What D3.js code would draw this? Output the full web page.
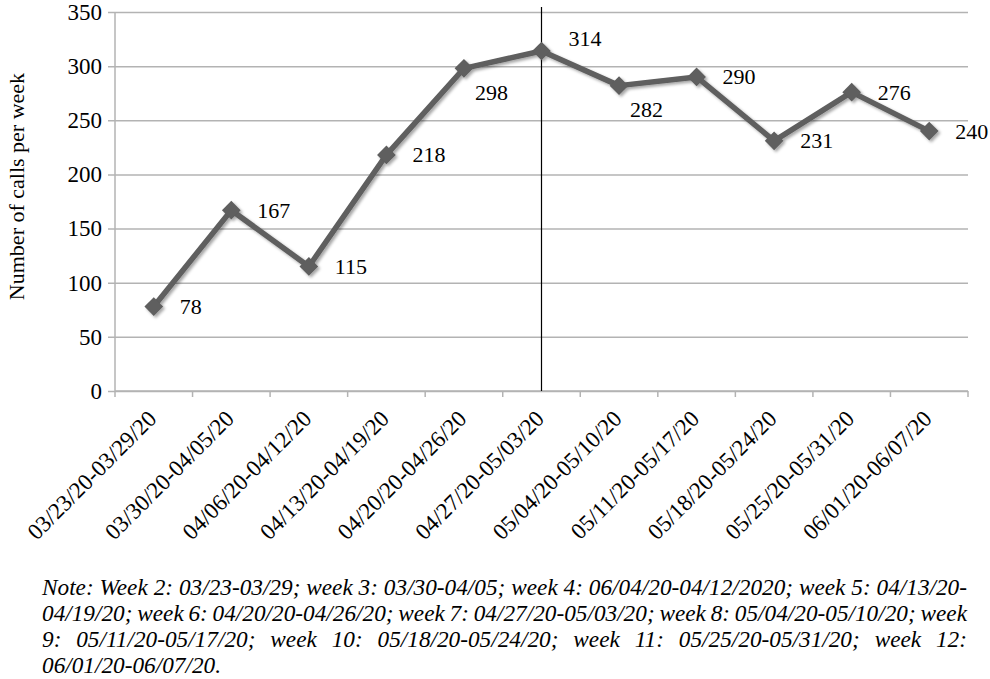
<!DOCTYPE html>
<html>
<head>
<meta charset="utf-8">
<script src="https://cdn.jsdelivr.net/npm/d3@7"></script>
<style>
  body { margin: 0; background: #fff; }
  svg, svg text { font-family: "Liberation Serif", "Times New Roman", serif; }
</style>
</head>
<body>
<div id="chart"></div>
<script>
// week ranges on the x axis
var weeks = ["03/23/20-03/29/20", "03/30/20-04/05/20", "04/06/20-04/12/20", "04/13/20-04/19/20",
             "04/20/20-04/26/20", "04/27/20-05/03/20", "05/04/20-05/10/20", "05/11/20-05/17/20",
             "05/18/20-05/24/20", "05/25/20-05/31/20", "06/01/20-06/07/20"];
// calls per week
var calls = [78, 167, 115, 218, 298, 314, 282, 290, 231, 276, 240];
// where each value label sits next to its marker: r = right, br = below right, ar = above right
var labelPlace = ["r", "r", "r", "r", "br", "ar", "br", "r", "r", "r", "r"];
var yTicks = [0, 50, 100, 150, 200, 250, 300, 350];
var markedWeek = "04/27/20-05/03/20";
var yTitle = "Number of calls per week";
var noteLines = [
    "Note: Week 2: 03/23-03/29; week 3: 03/30-04/05; week 4: 06/04/20-04/12/2020; week 5: 04/13/20-",
    "04/19/20; week 6: 04/20/20-04/26/20; week 7: 04/27/20-05/03/20; week 8: 05/04/20-05/10/20; week",
    "9: 05/11/20-05/17/20; week 10: 05/18/20-05/24/20; week 11: 05/25/20-05/31/20; week 12:",
    "06/01/20-06/07/20."
];

var W = 990, H = 679;
var plot = {left: 115, right: 968, top: 12, bottom: 391};

var svg = d3.select("#chart").append("svg")
    .attr("width", W)
    .attr("height", H);

var defs = svg.append("defs");
var shadow = defs.append("filter").attr("id", "shadow")
    .attr("x", "-50%").attr("y", "-50%").attr("width", "200%").attr("height", "200%");
shadow.append("feDropShadow")
    .attr("dx", 2).attr("dy", 2).attr("stdDeviation", 1.5)
    .attr("flood-color", "#000").attr("flood-opacity", 0.35);

var x = d3.scaleBand()
    .domain(weeks)
    .range([plot.left, plot.right])
    .padding(0);

var y = d3.scaleLinear()
    .domain([0, 350])
    .range([plot.bottom, plot.top]);

var gridColor = "#b3b3b3";

// horizontal gridlines + y tick labels
var yAxis = svg.append("g")
    .attr("transform", "translate(" + plot.left + ",0)")
    .call(d3.axisLeft(y).tickValues(yTicks).tickSize(-(plot.right - plot.left)).tickPadding(13));
yAxis.attr("font-family", null);
yAxis.select(".domain").remove();
yAxis.selectAll(".tick line")
    .attr("x1", -7)
    .attr("stroke", gridColor)
    .attr("stroke-width", 1.5);
yAxis.selectAll(".tick text")
    .attr("font-size", 23)
    .attr("fill", "#000");

// y axis line
svg.append("line")
    .attr("x1", plot.left).attr("x2", plot.left)
    .attr("y1", plot.top).attr("y2", plot.bottom)
    .attr("stroke", gridColor).attr("stroke-width", 1.5);

// x axis: line and ticks at the band edges
var xAxisG = svg.append("g");
xAxisG.append("line")
    .attr("x1", plot.left).attr("x2", plot.right)
    .attr("y1", plot.bottom).attr("y2", plot.bottom)
    .attr("stroke", gridColor).attr("stroke-width", 1.5);
var edges = weeks.map(function(w) { return x(w); }).concat([x(weeks[weeks.length - 1]) + x.bandwidth()]);
xAxisG.selectAll("line.tk")
    .data(edges)
    .enter().append("line")
    .attr("class", "tk")
    .attr("x1", function(d) { return d; }).attr("x2", function(d) { return d; })
    .attr("y1", plot.bottom).attr("y2", plot.bottom + 6)
    .attr("stroke", gridColor).attr("stroke-width", 1.5);

xAxisG.selectAll("text.wk")
    .data(weeks)
    .enter().append("text")
    .attr("class", "wk")
    .attr("text-anchor", "end")
    .attr("font-size", 23)
    .attr("transform", function(d) {
        return "translate(" + (x(d) + x.bandwidth() / 2 + 4) + "," + (plot.bottom + 29) + ") rotate(-45)";
    })
    .text(function(d) { return d; });

// y axis title
svg.append("text")
    .attr("transform", "translate(16," + ((plot.top + plot.bottom) / 2 - 15) + ") rotate(-90)")
    .attr("text-anchor", "middle")
    .attr("dominant-baseline", "central")
    .attr("font-size", 22)
    .text(yTitle);

// vertical marker line
var cx = function(w) { return x(w) + x.bandwidth() / 2; };
svg.append("line")
    .attr("x1", cx(markedWeek)).attr("x2", cx(markedWeek))
    .attr("y1", 7).attr("y2", plot.bottom)
    .attr("stroke", "#000").attr("stroke-width", 1.2);

// the series
var series = weeks.map(function(w, i) { return {week: w, value: calls[i], place: labelPlace[i]}; });
var lineColor = "#5e5e5e";

var line = d3.line()
    .x(function(d) { return cx(d.week); })
    .y(function(d) { return y(d.value); });

var marks = svg.append("g").attr("filter", "url(#shadow)");
marks.append("path")
    .datum(series)
    .attr("d", line)
    .attr("fill", "none")
    .attr("stroke", lineColor)
    .attr("stroke-width", 5.5)
    .attr("stroke-linejoin", "round");

var diamond = d3.symbol().type(d3.symbolSquare).size(175);
marks.selectAll("path.pt")
    .data(series)
    .enter().append("path")
    .attr("class", "pt")
    .attr("d", diamond)
    .attr("transform", function(d) { return "translate(" + cx(d.week) + "," + y(d.value) + ") rotate(45)"; })
    .attr("fill", lineColor);

// value labels
var offsets = { r: [26, 0], br: [11, 24], ar: [27, -12] };
svg.selectAll("text.val")
    .data(series)
    .enter().append("text")
    .attr("class", "val")
    .attr("x", function(d) { return cx(d.week) + offsets[d.place][0]; })
    .attr("y", function(d) { return y(d.value) + offsets[d.place][1]; })
    .attr("dominant-baseline", "central")
    .attr("font-size", 22)
    .text(function(d) { return d.value; });

// justified italic note under the chart
var noteLeft = 42, noteRight = 967, noteBase = 595, lineGap = 26;
var noteG = svg.append("g")
    .attr("font-style", "italic")
    .attr("font-size", 24);

// measure the first line to get the horizontal squeeze of the font
var probe = noteG.append("text").text(noteLines[0]);
var squeeze = (noteRight - noteLeft) / probe.node().getComputedTextLength();
probe.remove();

noteLines.forEach(function(txt, li) {
    var row = noteG.append("g")
        .attr("transform", "translate(" + noteLeft + "," + (noteBase + li * lineGap) + ") scale(" + squeeze + ",1)");
    var words = txt.split(" ");
    var widths = words.map(function(wd) {
        var t = row.append("text").text(wd);
        var w = t.node().getComputedTextLength();
        t.remove();
        return w;
    });
    var total = d3.sum(widths);
    var avail = (noteRight - noteLeft) / squeeze;
    var justify = li < noteLines.length - 1;
    var gap = justify ? (avail - total) / (words.length - 1) : 6;
    var pos = 0;
    row.selectAll("text")
        .data(words)
        .enter().append("text")
        .attr("x", function(d, i) {
            var p = pos;
            pos += widths[i] + gap;
            return p;
        })
        .text(function(d) { return d; });
});
</script>
</body>
</html>
